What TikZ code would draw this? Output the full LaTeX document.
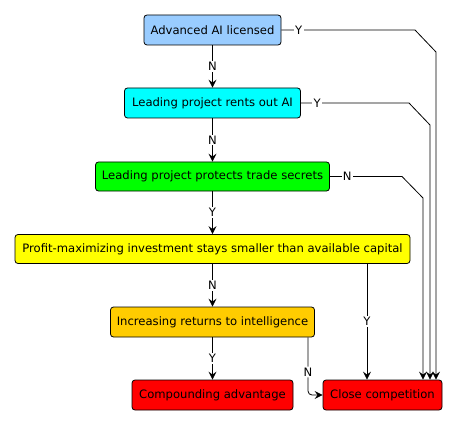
\documentclass[tikz,border=0pt]{standalone}
\usepackage{fontspec}
\setmainfont{DejaVu Sans}
\usetikzlibrary{arrows.meta}
\definecolor{cA}{HTML}{99CCFF}
\definecolor{cB}{HTML}{00FFFF}
\definecolor{cC}{HTML}{00FF00}
\definecolor{cD}{HTML}{FFFF00}
\definecolor{cE}{HTML}{FFCC00}
\definecolor{cF}{HTML}{FF0000}
\begin{document}
\begin{tikzpicture}[x=1pt,y=-1pt,
  box/.style={draw=black, line width=0.8pt, rounded corners=3pt, inner sep=0pt,
    font=\fontsize{11.6}{13}\selectfont},
  lbl/.style={fill=white, inner sep=1.2pt, font=\fontsize{11.6}{13}\selectfont},
  arr/.style={-{Stealth[length=8pt,width=8pt,inset=3pt]}, line width=0.8pt}]
\useasboundingbox (0,0) rectangle (458,425);
\node[box, fill=cA, minimum width=137pt, minimum height=30pt] (b1) at (212.5,30) {Advanced AI licensed};
\node[box, fill=cB, minimum width=176pt, minimum height=30pt] (b2) at (212.5,103) {Leading project rents out AI};
\node[box, fill=cC, minimum width=234pt, minimum height=29pt] (b3) at (212.5,176.5) {Leading project protects trade secrets};
\node[box, fill=cD, minimum width=395pt, minimum height=29pt] (b4) at (212.5,249) {Profit-maximizing investment stays smaller than available capital};
\node[box, fill=cE, minimum width=204pt, minimum height=30pt] (b5) at (212.5,322) {Increasing returns to intelligence};
\node[box, fill=cF, minimum width=161pt, minimum height=30pt] (b6) at (212.5,395) {Compounding advantage};
\node[box, fill=cF, minimum width=119pt, minimum height=30pt] (b7) at (382.5,395) {Close competition};

\draw[arr] (b1) -- node[lbl]{N} (b2);
\draw[arr] (b2) -- node[lbl]{N} (b3);
\draw[arr] (b3) -- node[lbl]{Y} (b4);
\draw[arr] (b4) -- node[lbl]{N} (b5);
\draw[arr] (b5) -- node[lbl]{Y} (b6);

\coordinate (r1a) at (415,30);
\coordinate (r1b) at (436,52);
\coordinate (r2a) at (409,103);
\coordinate (r2b) at (430,125);
\coordinate (r3a) at (402,176.5);
\coordinate (r3b) at (423,198);
\draw[arr] (b1.east) -- node[lbl,pos=0.13]{Y} (r1a) -- (r1b) -- (r1b |- b7.north);
\draw[arr] (b2.east) -- node[lbl,pos=0.15]{Y} (r2a) -- (r2b) -- (r2b |- b7.north);
\draw[arr] (b3.east) -- node[lbl,pos=0.24]{N} (r3a) -- (r3b) -- (r3b |- b7.north);

\coordinate (s4) at (367,0);
\draw[arr] (s4 |- b4.south) -- node[lbl]{Y} (s4 |- b7.north);
\coordinate (s5) at (308,0);
\draw[arr, rounded corners=4pt] (s5 |- b5.south) -- node[lbl,pos=0.6]{N} (s5 |- b7.west) -- (b7.west);
\end{tikzpicture}
\end{document}
